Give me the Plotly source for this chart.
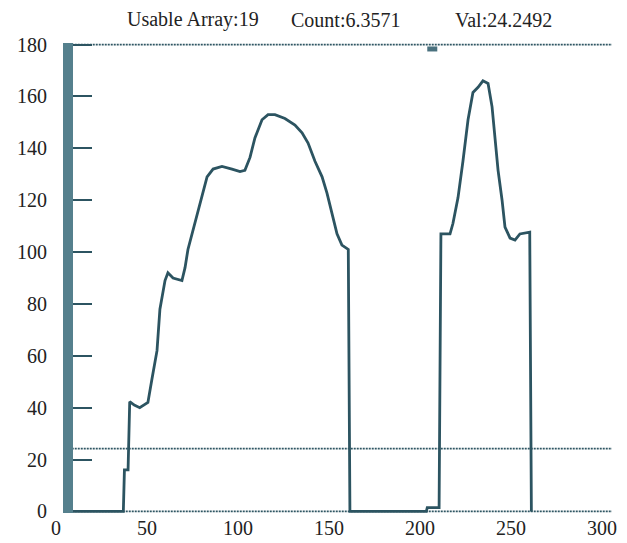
import plotly.graph_objects as go

# ---- data ----
usable_array = 19
count_val = 6.3571
thresh_val = 24.2492

x_vals = [7, 37, 37.6, 39.6, 40.5, 43, 46, 50.5, 52.7, 55.5, 57.1, 59.9, 61.5, 64.3, 69.2,
          70.9, 72.5, 75.3, 78.0, 80.8, 83.0, 86.3, 91.2, 96.7, 101.1, 103.8, 106.6, 109.3,
          113.2, 116.5, 120.3, 125.8, 131.3, 135.2, 138.5, 142.3, 146.2, 148.9, 151.6, 154.4,
          157.1, 159.9, 160.6, 161.5, 203.5, 204, 210.5, 211.5, 216.5, 218.1, 220.9, 223.6,
          226.4, 229.1, 231.9, 234.6, 237.4, 239.6, 241.2, 242.9, 245.1, 246.7, 249.5, 252.2,
          254.9, 259.3, 260.3, 261.2]
y_vals = [0, 0, 16, 16, 42.3, 41, 40, 42, 51, 62, 78, 89, 92, 90, 89,
          94, 101, 108.5, 115, 122.7, 129, 132, 133, 132, 131, 131.5, 136.5, 144,
          151, 153, 153, 151.5, 149, 146, 142, 135, 129, 122.7, 115, 107,
          102.7, 101.5, 101, 0, 0, 1.5, 1.5, 107, 107, 111, 121, 135,
          151, 161.5, 163.5, 166, 165, 156, 143, 131.5, 120, 109.6, 105.4, 104.6,
          107, 107.7, 107.7, 0]

mark_x = [204, 209.5]
mark_y = [178.3, 178.3]

line_x = [7, 305.5]
base_y = [0, 0]
top_y = [180, 180]
thr_y = [thresh_val, thresh_val]

x_ticks = [0, 50, 100, 150, 200, 250, 300]
y_ticks = [0, 20, 40, 60, 80, 100, 120, 140, 160, 180]

teal = "#2c5461"
font_family = "Liberation Serif"

fig = go.Figure()
for yy in (base_y, top_y, thr_y):
    fig.add_trace(go.Scatter(x=line_x, y=yy, mode="lines",
                             line=dict(color="#2f5663", width=1.8, dash="2px,1px"),
                             hoverinfo="skip", showlegend=False))
fig.add_trace(go.Scatter(x=x_vals, y=y_vals, mode="lines",
                         line=dict(color=teal, width=2.8), showlegend=False))
fig.add_trace(go.Scatter(x=mark_x, y=mark_y, mode="lines",
                         line=dict(color="#4a717e", width=5), showlegend=False))

title_items = [
    (0.246, f"Usable Array:{usable_array}"),
    (0.52, f"Count:{count_val}"),
    (0.805, f"Val:{thresh_val}"),
]
for xp, txt in title_items:
    fig.add_annotation(x=xp, y=1.049, xref="paper", yref="paper", text=txt,
                       showarrow=False, xanchor="center", yanchor="middle",
                       font=dict(family=font_family, size=20, color="#222222"))

fig.update_layout(
    width=627, height=543,
    margin=dict(l=56, r=15, t=43, b=30),
    plot_bgcolor="white", paper_bgcolor="white",
    showlegend=False,
    xaxis=dict(range=[0, 305.5], tickvals=x_ticks, showgrid=False, zeroline=False,
               showline=False, ticks="", ticklabelstandoff=1, automargin=False,
               tickfont=dict(family=font_family, size=20, color="#222222")),
    yaxis=dict(range=[-0.6, 180.6], tickvals=y_ticks, showgrid=False, zeroline=False,
               anchor="free", position=0.0216, showline=True, linewidth=10,
               linecolor="#55808d", ticks="inside", ticklen=19, tickwidth=1.5,
               tickcolor=teal, ticklabelstandoff=12, automargin=False,
               tickfont=dict(family=font_family, size=20, color="#222222")),
)

fig.write_html("out.html", config={"displayModeBar": False},
               post_script="document.body.style.margin='0';")
